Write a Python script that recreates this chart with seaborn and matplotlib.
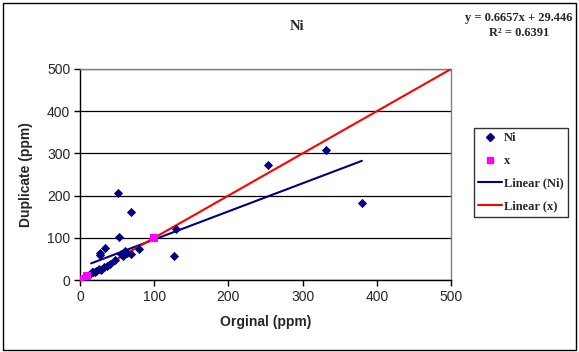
import numpy as np
import pandas as pd
import matplotlib
matplotlib.use("Agg")
import matplotlib.pyplot as plt
import seaborn as sns
from matplotlib.lines import Line2D
from matplotlib.patches import Rectangle

# ---- data ----
ni_orig = [51, 69, 52, 130, 127, 34, 27, 27, 79, 61, 69, 58, 55, 47, 36, 33, 28, 26, 22, 16, 253, 331, 380,
           12, 8, 5, 3, 1, 18, 20, 40, 64]
ni_dup = [205, 160, 101, 121, 57, 75, 65, 59, 74, 69, 62, 57, 62, 47, 33, 30, 24, 27, 22, 18, 273, 308, 182,
          12, 8, 5, 3, 1, 20, 19, 38, 63]
x_orig = [0, 10, 100]
x_dup = [0, 10, 100]
ref_line_x = [0, 500]
slope, intercept = 0.6657, 29.446
trend_x = [15, 380]
x_ticks = [0, 100, 200, 300, 400, 500]
y_ticks = [0, 100, 200, 300, 400, 500]
legend_labels = ["Ni", "x", "Linear (Ni)", "Linear (x)"]

sns.set_style("white")
plt.rcParams['font.family'] = ['Liberation Sans', 'DejaVu Sans']

fig = plt.figure(figsize=(5.79, 3.52), dpi=100)
ax = fig.add_axes([80/579, 1-280/352, 371/579, 211/352])

df_ni = pd.DataFrame({"x": ni_orig, "y": ni_dup})
df_x = pd.DataFrame({"x": x_orig, "y": x_dup})

tx = np.array(trend_x, dtype=float)
sns.lineplot(x=tx, y=slope*tx+intercept, ax=ax, color="#000080", lw=1.5, zorder=3)
rx = np.array(ref_line_x, dtype=float)
sns.lineplot(x=rx, y=rx, ax=ax, color="#ff0000", lw=1.5, zorder=4)
sns.scatterplot(data=df_ni, x="x", y="y", ax=ax, marker="D", color="#000080", s=22,
                edgecolor="#000080", linewidth=0, zorder=5)
sns.scatterplot(data=df_x, x="x", y="y", ax=ax, marker="s", color="#ff00ff", s=30,
                edgecolor="#ff00ff", linewidth=0, zorder=6)

ax.set_xlim(0, 500)
ax.set_ylim(0, 500)
ax.set_xticks(x_ticks)
ax.set_yticks(y_ticks)
ax.yaxis.grid(True, color="#000000", lw=0.9)
ax.set_axisbelow(True)
for side in ["top", "right"]:
    ax.spines[side].set_color("#808080")
    ax.spines[side].set_linewidth(1)
for side in ["left", "bottom"]:
    ax.spines[side].set_color("black")
    ax.spines[side].set_linewidth(1)
ax.tick_params(axis="both", direction="out", length=4, width=1, color="black",
               labelsize=10, pad=3, bottom=True, left=True)
ax.set_xlabel("Orginal (ppm)", fontsize=10, fontweight="bold", labelpad=8)
ax.set_ylabel("Duplicate (ppm)", fontsize=10, fontweight="bold", labelpad=10)

fig.text(297/579, 1-27/352, "Ni", ha="center", va="center", fontsize=10.5, fontweight="bold",
         family=["Liberation Serif"])
fig.text(519/579, 1-18/352, "y = 0.6657x + 29.446", ha="center", va="center", fontsize=9,
         fontweight="bold", family=["Liberation Serif"])
fig.text(519/579, 1-33/352, "R² = 0.6391", ha="center", va="center", fontsize=9,
         fontweight="bold", family=["Liberation Serif"])

handles = [
    Line2D([], [], ls="none", marker="D", color="#000080", markersize=4),
    Line2D([], [], ls="none", marker="s", color="#ff00ff", markersize=4.5),
    Line2D([], [], color="#000080", lw=1.5),
    Line2D([], [], color="#ff0000", lw=1.5),
]
leg = fig.legend(handles, legend_labels,
                 loc="upper left", bbox_to_anchor=(474/579, 1-128/352),
                 prop={"family": "Liberation Serif", "weight": "bold", "size": 9},
                 frameon=True, fancybox=False, edgecolor="black", handlelength=1.9,
                 handletextpad=0.15, borderpad=0.35, labelspacing=0.85, borderaxespad=0)
leg.get_frame().set_linewidth(1)

fig.patches.append(Rectangle((3/579, 2/352), 573/579, 347/352, transform=fig.transFigure,
                             fill=False, edgecolor="black", lw=1))

fig.savefig("out.png", dpi=100)
